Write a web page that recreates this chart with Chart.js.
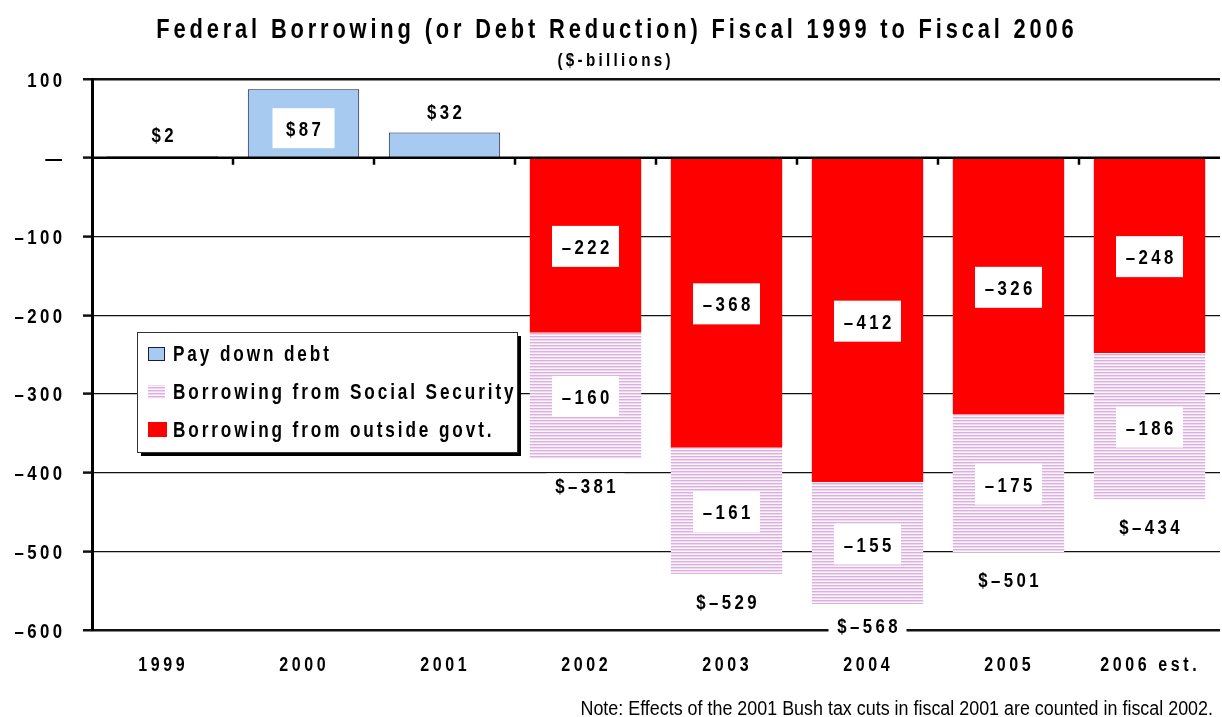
<!DOCTYPE html>
<html>
<head>
<meta charset="utf-8">
<script src="https://cdn.jsdelivr.net/npm/chart.js@4.4.1/dist/chart.umd.min.js"></script>
<style>
  html, body { margin: 0; padding: 0; background: #fff; }
  #wrap { width: 1222px; height: 717px; position: relative; }
</style>
</head>
<body>
<div id="wrap"><canvas id="debtChart" width="1222" height="717"></canvas></div>
<script>
// data ($-billions)
const categories = ['1999', '2000', '2001', '2002', '2003', '2004', '2005', '2006 est.'];
const payDownDebt = [2, 87, 32, null, null, null, null, null];
const outsideGovt = [null, null, null, -222, -368, -412, -326, -248];
const socialSecurity = [null, null, null, -160, -161, -155, -175, -186];
const totals = [2, 87, 32, -381, -529, -568, -501, -434];
const yMin = -600, yMax = 100, yStep = 100;

const titleText = 'Federal Borrowing (or Debt Reduction) Fiscal 1999 to Fiscal 2006';
const subtitleText = '($-billions)';
const noteText = 'Note: Effects of the 2001 Bush tax cuts in fiscal 2001 are counted in fiscal 2002.';

const FAMILY = '"Liberation Sans", Arial, sans-serif';
const fmt = v => String(v).replace('-', '\u2013');

// striped pink fill for the Social Security part
function stripes() {
    const c = document.createElement('canvas');
    c.width = 4; c.height = 3;
    const g = c.getContext('2d');
    g.fillStyle = '#d9b0de'; g.fillRect(0, 0, 4, 1);
    g.fillStyle = '#eed8ef'; g.fillRect(0, 1, 4, 1);
    g.fillStyle = '#fbf4fb'; g.fillRect(0, 2, 4, 1);
    return g.createPattern(c, 'repeat');
}
const ssFill = stripes();

// condensed, letter-spaced text like the original (sx squeezes, gap in px between letters)
function spaced(ctx, text, x, y, size, sx, gap, align, weight) {
    ctx.save();
    ctx.font = (weight || 'bold') + ' ' + size + 'px ' + FAMILY;
    ctx.letterSpacing = '0px';
    ctx.textAlign = 'left';
    ctx.textBaseline = 'alphabetic';
    const w = ctx.measureText(text).width * sx + (text.length - 1) * gap;
    let left = x;
    if (align === 'center') left = x - w / 2;
    if (align === 'right') left = x - w;
    ctx.translate(left, y);
    ctx.scale(sx, 1);
    ctx.letterSpacing = (gap / sx) + 'px';
    ctx.fillStyle = '#000';
    ctx.fillText(text, 0, 0);
    ctx.restore();
    return w;
}

function box(ctx, cx, cy, w, h) {
    ctx.fillStyle = '#fff';
    ctx.fillRect(cx - w / 2, cy - h / 2, w, h);
}

const LBL = [21, 0.8, 3.4];   // size, squeeze, gap for numbers

const extras = {
    id: 'extras',
    afterDatasetsDraw(chart) {
        const ctx = chart.ctx;
        const area = chart.chartArea;
        const y = chart.scales.y;
        const x = chart.scales.x;
        const y0 = y.getPixelForValue(0);
        ctx.save();

        // zero line with short ticks between years
        ctx.strokeStyle = '#000';
        ctx.lineWidth = 2.5;
        ctx.beginPath();
        ctx.moveTo(area.left, y0);
        ctx.lineTo(area.right, y0);
        const step = (area.right - area.left) / categories.length;
        for (let i = 1; i < categories.length; i++) {
            const px = Math.round(area.left + step * i);
            ctx.moveTo(px, y0);
            ctx.lineTo(px, y0 + 7);
        }
        ctx.stroke();

        // segment labels in white boxes
        [1, 2].forEach(di => {
            const meta = chart.getDatasetMeta(di);
            const data = chart.data.datasets[di].data;
            meta.data.forEach((el, i) => {
                if (data[i] == null) return;
                const cy = (el.y + el.base) / 2 + 1;
                box(ctx, el.x, cy, 67, 41);
                spaced(ctx, fmt(data[i]), el.x, cy + 7.5, LBL[0], LBL[1], LBL[2], 'center');
            });
        });

        // positive bars
        const pm = chart.getDatasetMeta(0);
        pm.data.forEach((el, i) => {
            const v = payDownDebt[i];
            if (v == null) return;
            const label = '$' + v;
            if (v > 50) {
                const cy = (el.y + el.base) / 2 + 5;
                box(ctx, el.x, cy, 62, 40);
                spaced(ctx, label, el.x, cy + 7.5, LBL[0], LBL[1], LBL[2], 'center');
            } else {
                spaced(ctx, label, el.x, el.y - 14, LBL[0], LBL[1], LBL[2], 'center');
            }
        });

        // totals below the stacked negative bars
        const sm = chart.getDatasetMeta(2);
        sm.data.forEach((el, i) => {
            if (socialSecurity[i] == null) return;
            const bottom = Math.max(el.y, el.base);
            const cy = Math.min(bottom + 27, area.bottom - 5);
            const label = '$' + fmt(totals[i]);
            box(ctx, el.x, cy, 78, 24);
            spaced(ctx, label, el.x, cy + 7.5, LBL[0], LBL[1], LBL[2], 'center');
        });
        ctx.restore();
    },
    afterDraw(chart) {
        const ctx = chart.ctx;
        const y = chart.scales.y;
        const x = chart.scales.x;

        // axis labels from the library's scales
        y.ticks.forEach(t => {
            const py = y.getPixelForValue(t.value);
            const txt = t.value === 0 ? '\u2014' : fmt(t.value);
            spaced(ctx, txt, 62, py + 7.5, LBL[0], LBL[1], LBL[2], 'right');
        });
        chart.data.labels.forEach((lab, i) => {
            spaced(ctx, lab, x.getPixelForValue(i) - 1, 671, 20, 0.8, 3.6, 'center');
        });

        spaced(ctx, titleText, 615, 37.5, 28, 0.78, 3.85, 'center');
        spaced(ctx, subtitleText, 614, 66, 19, 0.8, 3.3, 'center');

        // legend, drawn inside the plot
        const lx = 137, ly = 332, lw = 380, lh = 120;
        ctx.save();
        ctx.fillStyle = '#000';
        ctx.fillRect(lx + 4, ly + 4, lw, lh);
        ctx.fillStyle = '#fff';
        ctx.fillRect(lx, ly, lw, lh);
        ctx.strokeStyle = '#333';
        ctx.lineWidth = 1;
        ctx.strokeRect(lx + 0.5, ly + 0.5, lw, lh);
        [0, 2, 1].forEach((di, k) => {
            const ds = chart.data.datasets[di];
            const base = 361 + k * 38;
            ctx.fillStyle = ds.backgroundColor;
            if (di === 1) ctx.fillRect(148, base - 15, 19, 15);
            else ctx.fillRect(148, base - 14, 17, 14);
            if (ds.borderWidth) {
                ctx.strokeStyle = ds.borderColor;
                ctx.strokeRect(148.5, base - 13.5, 16, 13);
            }
            spaced(ctx, ds.label, 173, base, 22, 0.78, 2.9, 'left');
        });
        ctx.restore();

        // footnote
        spaced(ctx, noteText, 1213, 715, 20, 0.895, 0, 'right', 'normal');
    }
};

new Chart(document.getElementById('debtChart'), {
    type: 'bar',
    data: {
        labels: categories,
        datasets: [
            {
                label: 'Pay down debt',
                data: payDownDebt,
                backgroundColor: '#a6caf0',
                borderColor: '#1a1a4a',
                borderWidth: 1
            },
            {
                label: 'Borrowing from outside govt.',
                data: outsideGovt,
                backgroundColor: '#ff0000',
                borderWidth: 0
            },
            {
                label: 'Borrowing from Social Security',
                data: socialSecurity,
                backgroundColor: ssFill,
                borderWidth: 0
            }
        ]
    },
    options: {
        responsive: false,
        animation: false,
        devicePixelRatio: 1,
        layout: { padding: { top: 79, right: 2, left: 0, bottom: 0 } },
        datasets: { bar: { barPercentage: 0.79, categoryPercentage: 1 } },
        plugins: { legend: { display: false }, tooltip: { enabled: false }, title: { display: false } },
        scales: {
            x: {
                stacked: true,
                grid: { display: false, drawTicks: false },
                border: { display: false },
                ticks: { display: false },
                afterFit: s => { s.height = 87; }
            },
            y: {
                stacked: true,
                min: yMin,
                max: yMax,
                ticks: { stepSize: yStep, display: false },
                grid: {
                    color: '#111',
                    lineWidth: c => (c.tick && (c.tick.value === yMax || c.tick.value === yMin)) ? 2.5 : 1.2,
                    tickLength: 9,
                    tickWidth: 2.5
                },
                border: { display: true, color: '#000', width: 3 },
                afterFit: s => { s.width = 92; }
            }
        }
    },
    plugins: [extras]
});
</script>
</body>
</html>
